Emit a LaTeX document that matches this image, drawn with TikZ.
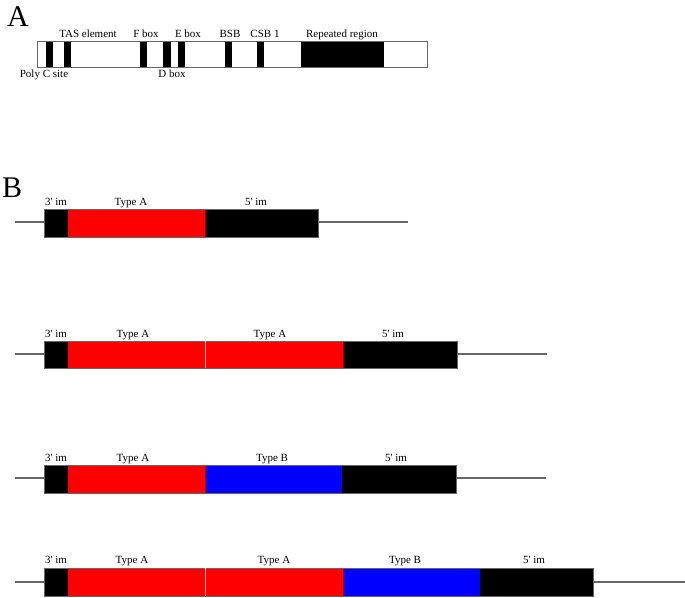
\documentclass[tikz,border=0pt]{standalone}
\usepackage{fontspec}
\setmainfont{Liberation Serif}[Ligatures=TeXOff]
\begin{document}
\begin{tikzpicture}[x=1pt,y=-1pt,
  lbl/.style={anchor=base,inner sep=0pt,font=\fontsize{11}{12}\selectfont},
  big/.style={anchor=base west,inner sep=0pt,font=\fontsize{30}{32}\selectfont},
  strand/.style={draw=black!60,line width=1.3pt},
  frame/.style={draw=black!60,line width=0.6pt},
  blk/.style={fill=black},
  redseg/.style={fill=red},
  blueseg/.style={fill=blue},
  sep/.style={draw=white,line width=0.8pt}]
\useasboundingbox (0,0) rectangle (685,597);

% ---------- Part A ----------
\node[big] (labA) at (7,26) {A};
\draw[frame,fill=white] (37,41) rectangle (427,67);
\foreach \a/\b in {46/53,64/71,140/147,163/171,178/185,225/232,257/264,301/384}
  \fill[blk] (\a,41) rectangle (\b,67);
\draw[frame] (37,41) rectangle (427,67);
\node[lbl] (tas) at (88,37) {TAS element};
\node[lbl] (fbox) at (146,37) {F box};
\node[lbl] (ebox) at (188,37) {E box};
\node[lbl] (bsb) at (230,37) {BSB};
\node[lbl] (csb) at (265,37) {CSB 1};
\node[lbl] (rep) at (342,37) {Repeated region};
\node[lbl] (polyc) at (44,77) {Poly C site};
\node[lbl] (dbox) at (172,77) {D box};

% ---------- Part B ----------
\node[big] (labB) at (2,197) {B};

% Row 1
\coordinate (r1s) at (15,222); \coordinate (r1e) at (408,222);
\draw[strand] (r1s) -- (r1e);
\fill[blk] (44,209) rectangle (68,237);
\fill[redseg] (68,209) rectangle (205,237);
\fill[blk] (205,209) rectangle (318,237);
\draw[frame] (44,209) rectangle (318,237);
\node[lbl] (r1a) at (56,205) {3' im};
\node[lbl] (r1b) at (131,205) {Type A};
\node[lbl] (r1c) at (256,205) {5' im};

% Row 2
\coordinate (r2s) at (15,354); \coordinate (r2e) at (547,354);
\draw[strand] (r2s) -- (r2e);
\fill[blk] (44,341) rectangle (68,368);
\fill[redseg] (68,341) rectangle (343,368);
\fill[blk] (343,341) rectangle (457,368);
\draw[frame] (44,341) rectangle (457,368);
\draw[sep] (205,341) -- (205,368);
\node[lbl] (r2a) at (56,337) {3' im};
\node[lbl] (r2b) at (133,337) {Type A};
\node[lbl] (r2c) at (270,337) {Type A};
\node[lbl] (r2d) at (393,337) {5' im};

% Row 3
\coordinate (r3s) at (15,478); \coordinate (r3e) at (546,478);
\draw[strand] (r3s) -- (r3e);
\fill[blk] (44,465) rectangle (68,493);
\fill[redseg] (68,465) rectangle (205,493);
\fill[blueseg] (205,465) rectangle (342,493);
\fill[blk] (342,465) rectangle (456,493);
\draw[frame] (44,465) rectangle (456,493);
\node[lbl] (r3a) at (56,461) {3' im};
\node[lbl] (r3b) at (133,461) {Type A};
\node[lbl] (r3c) at (272,461) {Type B};
\node[lbl] (r3d) at (396,461) {5' im};

% Row 4
\coordinate (r4s) at (15,582); \coordinate (r4e) at (685,582);
\draw[strand] (r4s) -- (r4e);
\fill[blk] (44,568) rectangle (68,596);
\fill[redseg] (68,568) rectangle (343,596);
\fill[blueseg] (343,568) rectangle (480,596);
\fill[blk] (480,568) rectangle (593,596);
\draw[frame] (44,568) rectangle (593,596);
\draw[sep] (205,568) -- (205,596);
\node[lbl] (r4a) at (56,563) {3' im};
\node[lbl] (r4b) at (132,563) {Type A};
\node[lbl] (r4c) at (274,563) {Type A};
\node[lbl] (r4d) at (405,563) {Type B};
\node[lbl] (r4e) at (534,563) {5' im};
\end{tikzpicture}
\end{document}
